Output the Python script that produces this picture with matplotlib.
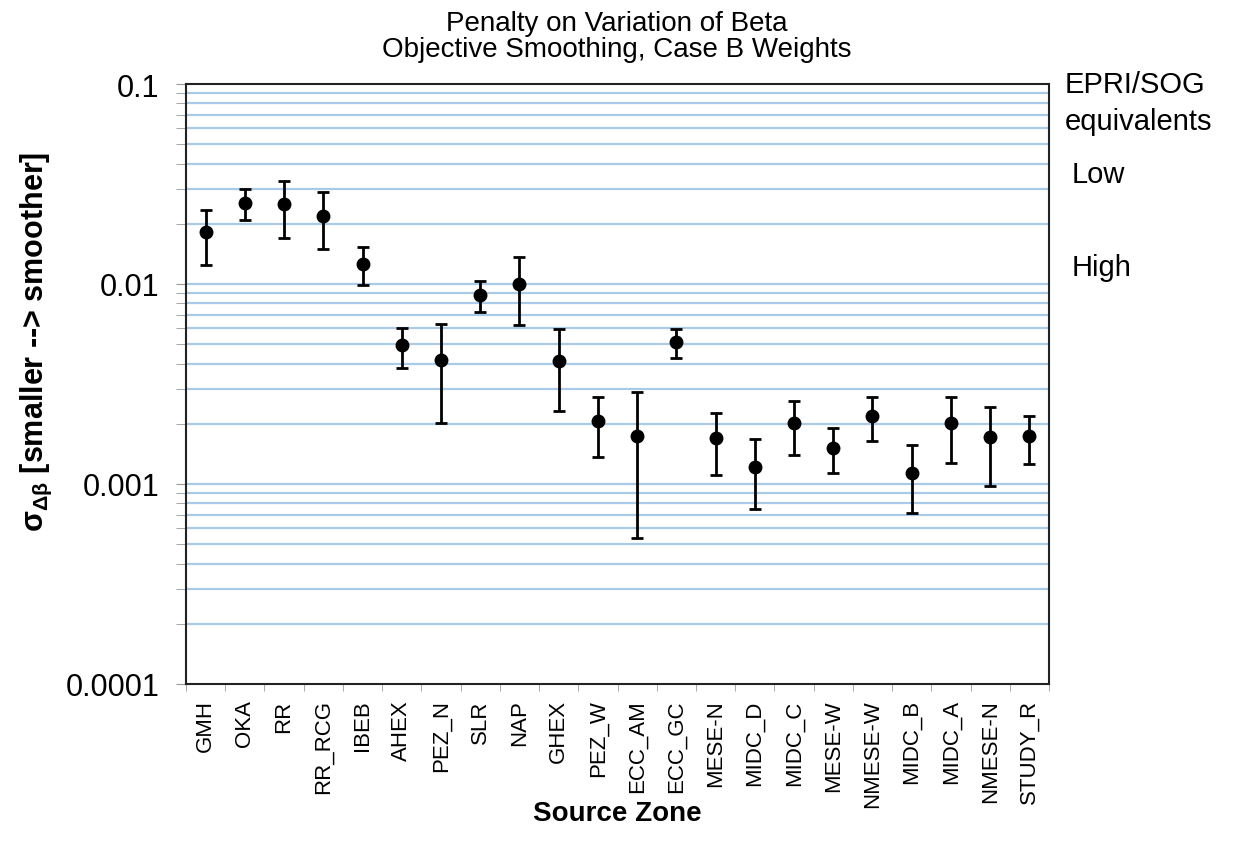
import numpy as np
import matplotlib
matplotlib.use("Agg")
import matplotlib.pyplot as plt
from matplotlib.ticker import FixedLocator, LogLocator, NullFormatter

plt.rcParams['font.family'] = ['Liberation Sans', 'DejaVu Sans']

# source zones and smoothing sigma (median with upper/lower bounds)
zones = ["GMH", "OKA", "RR", "RR_RCG", "IBEB", "AHEX", "PEZ_N", "SLR", "NAP", "GHEX",
         "PEZ_W", "ECC_AM", "ECC_GC", "MESE-N", "MIDC_D", "MIDC_C", "MESE-W", "NMESE-W",
         "MIDC_B", "MIDC_A", "NMESE-N", "STUDY_R"]
sigma = [0.0181, 0.0255, 0.0250, 0.0219, 0.0126, 0.00497, 0.00417, 0.00881, 0.0100, 0.00412,
         0.00206, 0.00173, 0.00513, 0.00170, 0.00121, 0.00201, 0.00152, 0.00219,
         0.00114, 0.00201, 0.00172, 0.00173]
sigma_hi = [0.0234, 0.0300, 0.0327, 0.0287, 0.0153, 0.00605, 0.00631, 0.0103, 0.0137, 0.00596,
            0.00273, 0.00289, 0.00596, 0.00227, 0.00167, 0.00260, 0.00190, 0.00272,
            0.00156, 0.00271, 0.00244, 0.00218]
sigma_lo = [0.0125, 0.0209, 0.0170, 0.0149, 0.00992, 0.00382, 0.00202, 0.00722, 0.00621, 0.00231,
            0.00137, 0.000537, 0.00428, 0.00111, 0.00075, 0.00140, 0.00114, 0.00164,
            0.000719, 0.00128, 0.00098, 0.00126]

# EPRI/SOG equivalent levels
epri_labels = ["Low", "High"]
epri_levels = [0.0355, 0.0122]

y = np.array(sigma)
err = np.array([y - np.array(sigma_lo), np.array(sigma_hi) - y])
x = np.arange(len(zones))

W, H = 1236, 853
fig = plt.figure(figsize=(W / 100, H / 100), dpi=100)
ax = fig.add_axes([186 / W, 1 - 685 / H, 863 / W, 600 / H])

ax.set_yscale('log')
ax.set_ylim(0.0001, 0.1)
ax.set_xlim(-0.5, len(zones) - 0.5)

# light blue lines on every minor decade step
for dec in [0.0001, 0.001, 0.01]:
    for k in range(1, 10):
        if dec * k > 0.0001:
            ax.axhline(dec * k, color='#a9cbe8', lw=1.6, zorder=0)

ax.errorbar(x, y, yerr=err, fmt='o', color='black', ms=9, elinewidth=2,
            capsize=4.5, capthick=2, zorder=3)

ax.yaxis.set_major_locator(FixedLocator([0.0001, 0.001, 0.01, 0.1]))
ax.set_yticklabels(["0.0001", "0.001", "0.01", "0.1"], fontsize=22)
ax.yaxis.set_minor_locator(LogLocator(base=10, subs=np.arange(2, 10)))
ax.yaxis.set_minor_formatter(NullFormatter())
ax.tick_params(axis='y', which='both', direction='out', length=7, color='#999999', pad=12)

ax.set_xticks(x)
ax.set_xticklabels(zones, rotation=90, fontsize=16)
ax.set_xticks(np.arange(-0.5, len(zones), 1.0), minor=True)
ax.tick_params(axis='x', which='major', length=0, pad=11)
ax.tick_params(axis='x', which='minor', direction='out', length=5, color='#999999')

for s in ax.spines.values():
    s.set_linewidth(1.5)
    s.set_color('#222222')

# titles and axis labels placed in pixel coordinates
def px(xp, yp):
    return xp / W, 1 - yp / H

fig.text(*px(617, 24), "Penalty on Variation of Beta", fontsize=20, ha='center', va='center')
fig.text(*px(617, 50), "Objective Smoothing, Case B Weights", fontsize=20, ha='center', va='center')
fig.text(*px(36, 342), r"σ$_{\mathregular{Δβ}}$ [smaller --> smoother]", fontsize=22,
         fontweight='bold', rotation=90, ha='center', va='center')
fig.text(*px(617, 814), "Source Zone", fontsize=20, fontweight='bold', ha='center', va='center')

trans = ax.get_yaxis_transform()
ax.text(1.018, 0.1, "EPRI/SOG", transform=trans, fontsize=21, va='center', ha='left')
ax.text(1.018, 0.065, "equivalents", transform=trans, fontsize=21, va='center', ha='left')
for lab, lev in zip(epri_labels, epri_levels):
    ax.text(1.026, lev, lab, transform=trans, fontsize=21, va='center', ha='left')

fig.savefig("out.png", dpi=100)
